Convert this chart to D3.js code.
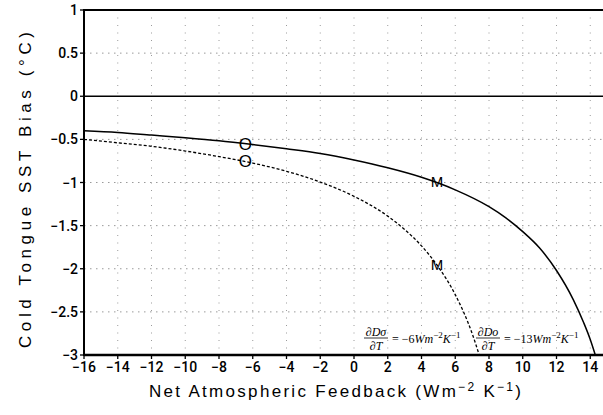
<!DOCTYPE html>
<html>
<head>
<meta charset="utf-8">
<script src="https://cdn.jsdelivr.net/npm/d3@7"></script>
<style>
  body { margin: 0; background: #fff; }
  .tick-label { font-family: Roboto, "Liberation Sans", sans-serif; font-weight: 500; font-size: 14px; fill: #000; }
  .axis-title { font-family: "Liberation Sans", Arial, sans-serif; fill: #000; }
  .mark { font-family: "Liberation Sans", Arial, sans-serif; fill: #000; }
  .eq { font-family: "Liberation Serif", "Times New Roman", serif; font-size: 12px; fill: #000; }
</style>
</head>
<body>
<svg id="chart" width="603" height="415"></svg>
<script>
// values
const solidX = [-16, -14, -12, -10, -8, -6, -4, -2, 0, 2, 4, 6, 8, 9, 10, 11, 12, 13, 13.6, 14, 14.3];
const solidY = [-0.40, -0.42, -0.45, -0.48, -0.515, -0.56, -0.61, -0.665, -0.74, -0.83, -0.94, -1.085, -1.28, -1.41, -1.57, -1.76, -2.02, -2.36, -2.62, -2.82, -3.0];
const dashX = [-16, -14, -12, -10, -8, -6, -4, -2, 0, 2, 3, 4, 5, 6, 7, 7.42];
const dashY = [-0.50, -0.54, -0.58, -0.635, -0.70, -0.775, -0.87, -0.995, -1.16, -1.39, -1.545, -1.735, -1.98, -2.30, -2.75, -3.0];
const markLabels = ["O", "O", "M", "M"];
const markX = [-6.44, -6.44, 4.92, 4.92];
const markY = [-0.55, -0.755, -0.99, -1.95];
const xTicks = d3.range(-16, 16, 2);
const yTicks = [1, 0.5, 0, -0.5, -1, -1.5, -2, -2.5, -3];

const svg = d3.select("#chart");

const x = d3.scaleLinear().domain([-16, 16]).range([84, 624]);
const y = d3.scaleLinear().domain([-3, 1]).range([355, 10]);

const fmt = d => (d < 0 ? "\u2212" : "") + Math.abs(d);

// dotted grid
svg.append("g")
  .selectAll("line")
  .data(xTicks.slice(1))
  .join("line")
    .attr("x1", d => x(d)).attr("x2", d => x(d))
    .attr("y1", y(1)).attr("y2", y(-3))
    .attr("stroke", "#9a9a9a")
    .attr("stroke-width", 1)
    .attr("stroke-dasharray", "1,6.5");

svg.append("g")
  .selectAll("line")
  .data(yTicks.filter(d => d !== 0 && d !== 1 && d !== -3))
  .join("line")
    .attr("x1", x(-16)).attr("x2", 603)
    .attr("y1", d => y(d)).attr("y2", d => y(d))
    .attr("stroke", "#9a9a9a")
    .attr("stroke-width", 1)
    .attr("stroke-dasharray", "1.5,4.5");

// zero line
svg.append("line")
  .attr("x1", x(-16)).attr("x2", 603)
  .attr("y1", y(0)).attr("y2", y(0))
  .attr("stroke", "#000").attr("stroke-width", 1.3);

// curves
const line = d3.line()
  .x(d => x(d[0]))
  .y(d => y(d[1]))
  .curve(d3.curveMonotoneX);

svg.append("path")
  .attr("d", line(d3.zip(solidX, solidY)))
  .attr("fill", "none")
  .attr("stroke", "#000")
  .attr("stroke-width", 1.5);

svg.append("path")
  .attr("d", line(d3.zip(dashX, dashY)))
  .attr("fill", "none")
  .attr("stroke", "#000")
  .attr("stroke-width", 1.3)
  .attr("stroke-dasharray", "3,2");

// O / M markers
svg.append("g")
  .selectAll("text")
  .data(markLabels)
  .join("text")
    .attr("class", "mark")
    .attr("x", (d, i) => x(markX[i]))
    .attr("y", (d, i) => y(markY[i]))
    .attr("dy", "0.36em")
    .attr("text-anchor", "middle")
    .style("font-size", d => d === "O" ? "17px" : "15px")
    .text(d => d);

// frame
svg.append("line")
  .attr("x1", x(-16)).attr("x2", 603)
  .attr("y1", y(1)).attr("y2", y(1))
  .attr("stroke", "#000").attr("stroke-width", 2);
svg.append("line")
  .attr("x1", x(-16)).attr("x2", 603)
  .attr("y1", y(-3)).attr("y2", y(-3))
  .attr("stroke", "#000").attr("stroke-width", 2.5);
svg.append("line")
  .attr("x1", x(-16)).attr("x2", x(-16))
  .attr("y1", y(1) - 1).attr("y2", y(-3) + 1)
  .attr("stroke", "#000").attr("stroke-width", 2);

// ticks
svg.append("g")
  .selectAll("line")
  .data(yTicks)
  .join("line")
    .attr("x1", x(-16) - 4).attr("x2", x(-16))
    .attr("y1", d => y(d)).attr("y2", d => y(d))
    .attr("stroke", "#000").attr("stroke-width", 1.3);

svg.append("g")
  .selectAll("line")
  .data(xTicks)
  .join("line")
    .attr("x1", d => x(d)).attr("x2", d => x(d))
    .attr("y1", y(-3)).attr("y2", y(-3) + 4)
    .attr("stroke", "#000").attr("stroke-width", 1.3);

svg.append("g")
  .selectAll("text")
  .data(yTicks)
  .join("text")
    .attr("class", "tick-label")
    .attr("x", x(-16) - 6)
    .attr("y", d => y(d))
    .attr("dy", "0.36em")
    .attr("text-anchor", "end")
    .text(fmt);

svg.append("g")
  .selectAll("text")
  .data(xTicks)
  .join("text")
    .attr("class", "tick-label")
    .attr("x", d => x(d))
    .attr("y", y(-3) + 17)
    .attr("text-anchor", "middle")
    .text(fmt);

// axis titles
const xt = svg.append("text")
  .attr("class", "axis-title")
  .attr("x", 335)
  .attr("y", 397)
  .attr("text-anchor", "middle")
  .style("font-size", "17px")
  .attr("textLength", 372)
  .attr("lengthAdjust", "spacing");
xt.append("tspan").text("Net Atmospheric Feedback (Wm");
xt.append("tspan").attr("dy", -6).style("font-size", "12px").text("\u22122");
xt.append("tspan").attr("dy", 6).text(" K");
xt.append("tspan").attr("dy", -6).style("font-size", "12px").text("\u22121");
xt.append("tspan").attr("dy", 6).text(")");

svg.append("text")
  .attr("class", "axis-title")
  .attr("transform", "translate(31,190) rotate(-90)")
  .attr("text-anchor", "middle")
  .style("font-size", "17px")
  .attr("textLength", 316)
  .attr("lengthAdjust", "spacing")
  .text("Cold Tongue SST Bias (\u00b0C)");

// dDo/dT annotations
function annot(x0, sym, val) {
  const g = svg.append("g").attr("class", "eq");
  g.append("text").attr("x", x0).attr("y", 336).attr("text-anchor", "middle")
    .html(`\u2202<tspan font-style="italic">D${sym}</tspan>`);
  g.append("line").attr("x1", x0 - 12).attr("x2", x0 + 12)
    .attr("y1", 338).attr("y2", 338).attr("stroke", "#000").attr("stroke-width", 0.8);
  g.append("text").attr("x", x0).attr("y", 349.5).attr("text-anchor", "middle")
    .html(`\u2202<tspan font-style="italic">T</tspan>`);
  g.append("text").attr("x", x0 + 16).attr("y", 342.5)
    .html(`= \u2212${val}<tspan font-style="italic">Wm</tspan><tspan dy="-5" font-size="9px">\u22122</tspan><tspan dy="5" font-style="italic">K</tspan><tspan dy="-5" font-size="9px">\u22121</tspan>`);
}
annot(376, "\u03c3", 6);
annot(488, "o", 13);
</script>
</body>
</html>
